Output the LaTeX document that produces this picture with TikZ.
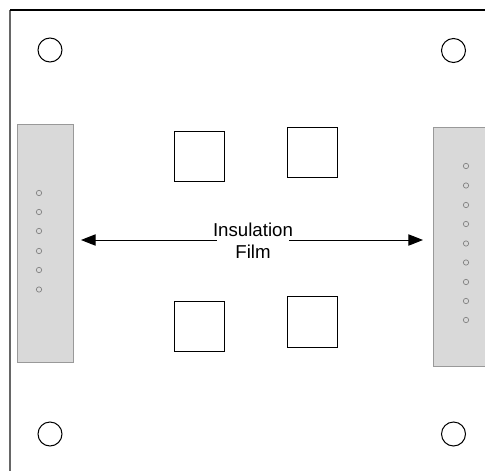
\documentclass[tikz,border=0pt]{standalone}
\usepackage{fontspec}
\setmainfont{Liberation Sans}
\usetikzlibrary{arrows.meta}

\begin{document}
\begin{tikzpicture}[x=0.75pt, y=-0.75pt, line width=0.75pt,
  via node/.style={circle,draw,inner sep=0pt,minimum size=18pt},
  pad node/.style={rectangle,draw,inner sep=0pt,minimum width=37.5pt,minimum height=38pt},
  strip node/.style={rectangle,draw=black!40,fill=black!15,inner sep=0pt},
  pin node/.style={circle,draw=black!50,line width=0.5pt,inner sep=0pt,minimum size=4pt},
  film arrow/.style={-{Triangle[length=11pt,width=8.5pt]},shorten <=-3pt}]

\clip (0,0) rectangle (485,471);

\draw[black!60, line width=1.1pt] (10,10) -- (10,471);
\draw[line width=1pt] (10,10) -- (485,10);

\node[via node] (VA) at (50,50) {};
\node[via node] (VB) at (453.5,50.5) {};
\node[via node] (VC) at (50,434) {};
\node[via node] (VD) at (453.5,434) {};

\node[strip node, minimum width=41.6pt, minimum height=178.6pt] (SL) at (45.5,243.5) {};
\node[strip node, minimum width=44pt, minimum height=178.6pt] (SR) at (462.7,247) {};

\foreach \y in {193,212,231,251,270,289.5}
  \node[pin node] at (39,\y) {};
\foreach \y in {166,185.5,205,224,243.5,262.5,282,301,320}
  \node[pin node] at (466,\y) {};

\node[pad node] (PA) at (199.5,156.5) {};
\node[pad node] (PB) at (312,152.5) {};
\node[pad node] (PC) at (199.5,326.5) {};
\node[pad node] (PD) at (312.5,322) {};

\node[align=center, font=\fontsize{14}{16.5}\selectfont, inner sep=0pt] (film) at (253,241) {Insulation\\Film};

\coordinate (AL) at (81,240);
\coordinate (AR) at (423,240);
\draw[film arrow] (film.west |- AL) -- (AL);
\draw[film arrow] (film.east |- AR) -- (AR);
\end{tikzpicture}
\end{document}
